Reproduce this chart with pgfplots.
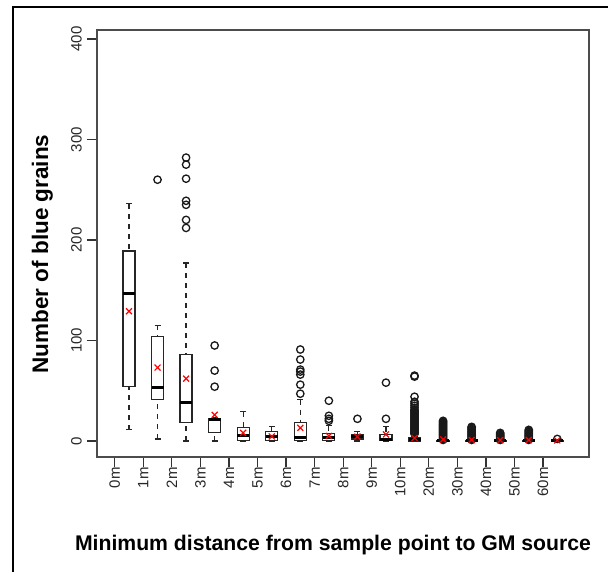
\documentclass[border=0pt]{standalone}
\usepackage{fontspec}
\setmainfont{Liberation Sans}
\usepackage{pgfplots}
\pgfplotsset{compat=1.18}
\usepgfplotslibrary{statistics}

% whiskers dashed, caps solid (R style)
\pgfplotsset{
  boxplot/draw/lower whisker/.code={%
    \draw[black!85, line width=1.2pt, dash pattern=on 5pt off 5pt]
      (boxplot box cs:\pgfplotsboxplotvalue{lower whisker},0.5) --
      (boxplot box cs:\pgfplotsboxplotvalue{lower quartile},0.5);
    \draw[black!85, line width=1.2pt]
      (boxplot whisker cs:\pgfplotsboxplotvalue{lower whisker},0) --
      (boxplot whisker cs:\pgfplotsboxplotvalue{lower whisker},1);
  },
  boxplot/draw/upper whisker/.code={%
    \draw[black!85, line width=1.2pt, dash pattern=on 5pt off 5pt]
      (boxplot box cs:\pgfplotsboxplotvalue{upper whisker},0.5) --
      (boxplot box cs:\pgfplotsboxplotvalue{upper quartile},0.5);
    \draw[black!85, line width=1.2pt]
      (boxplot whisker cs:\pgfplotsboxplotvalue{upper whisker},0) --
      (boxplot whisker cs:\pgfplotsboxplotvalue{upper whisker},1);
  },
  boxplot/draw direction=y,
  boxplot/every box/.style={draw=black!85, line width=1.2pt},
  boxplot/every median/.style={draw=black, line width=3pt},
  boxplot/box extend=0.42,
  boxplot/whisker extend=0.21,
}

\begin{document}
\begin{tikzpicture}
\path[use as bounding box] (0,0) rectangle (608pt,571pt);
\draw[line width=2.5pt] (13pt,-5pt) -- (13pt,564pt) -- (615pt,564pt);

\begin{axis}[
  at={(97pt,114pt)}, anchor=south west,
  width=492pt, height=427pt, scale only axis,
  xmin=-0.12, xmax=17.11, ymin=-16, ymax=409,
  xtick={0.5,1.5,2.5,3.5,4.5,5.5,6.5,7.5,8.5,9.5,10.5,11.5,12.5,13.5,14.5,15.5},
  xticklabels={0m,1m,2m,3m,4m,5m,6m,7m,8m,9m,10m,20m,30m,40m,50m,60m},
  ytick={0,100,200,300,400},
  xtick pos=bottom, ytick pos=left,
  tick align=outside, major tick length=10pt,
  tick style={line width=1.2pt, black!80},
  axis line style={line width=1.5pt, black!70},
  /pgf/number format/assume math mode=true,
  tick label style={font=\fontsize{15}{15}\selectfont, text=black!85, inner sep=0pt},
  xticklabel style={rotate=90, anchor=east},
  yticklabel style={rotate=90, anchor=south},
  yticklabel shift=5pt,
  clip=false,
]
% 0m
\addplot[boxplot prepared={draw position=1, lower whisker=11, lower quartile=54,
  median=147, upper quartile=189, upper whisker=236}] coordinates {};
% 1m
\addplot[boxplot prepared={draw position=2, lower whisker=2, lower quartile=41,
  median=53, upper quartile=104, upper whisker=115}] coordinates {};
% 2m
\addplot[boxplot prepared={draw position=3, lower whisker=0, lower quartile=18,
  median=38, upper quartile=86, upper whisker=177}] coordinates {};
% 3m
\addplot[boxplot prepared={draw position=4, lower whisker=0, lower quartile=8,
  median=21, upper quartile=22, upper whisker=23}] coordinates {};
% 4m
\addplot[boxplot prepared={draw position=5, lower whisker=0, lower quartile=0.5,
  median=5, upper quartile=13, upper whisker=29}] coordinates {};
% 5m
\addplot[boxplot prepared={draw position=6, lower whisker=0, lower quartile=0.5,
  median=4, upper quartile=9, upper whisker=14}] coordinates {};
% 6m
\addplot[boxplot prepared={draw position=7, lower whisker=0, lower quartile=0.5,
  median=3, upper quartile=18, upper whisker=41}] coordinates {};
% 7m
\addplot[boxplot prepared={draw position=8, lower whisker=0, lower quartile=0.5,
  median=3, upper quartile=7, upper whisker=15}] coordinates {};
% 8m
\addplot[boxplot prepared={draw position=9, lower whisker=0, lower quartile=2,
  median=4, upper quartile=6, upper whisker=9}] coordinates {};
% 9m
\addplot[boxplot prepared={draw position=10, lower whisker=0, lower quartile=0.5,
  median=1.5, upper quartile=6, upper whisker=14}] coordinates {};
% 10m
\addplot[boxplot prepared={draw position=11, lower whisker=0, lower quartile=0,
  median=1, upper quartile=3, upper whisker=6}] coordinates {};
% 20m .. 60m
\addplot[boxplot prepared={draw position=12, lower whisker=0, lower quartile=0,
  median=0, upper quartile=0.5, upper whisker=0.5}] coordinates {};
\addplot[boxplot prepared={draw position=13, lower whisker=0, lower quartile=0,
  median=0, upper quartile=0.5, upper whisker=0.5}] coordinates {};
\addplot[boxplot prepared={draw position=14, lower whisker=0, lower quartile=0,
  median=0, upper quartile=0.5, upper whisker=0.5}] coordinates {};
\addplot[boxplot prepared={draw position=15, lower whisker=0, lower quartile=0,
  median=0, upper quartile=0.5, upper whisker=0.5}] coordinates {};
\addplot[boxplot prepared={draw position=16, lower whisker=0, lower quartile=0,
  median=0, upper quartile=0.5, upper whisker=0.5}] coordinates {};

% outliers
\addplot[only marks, mark=o, mark size=3.7pt, black!90,
  mark options={line width=1.3pt}] table {
x y
2 260
3 282
3 275
3 261
3 239
3 235
3 220
3 212
4 95
4 70
4 54
7 91
7 81
7 71
7 69
7 66
7 56
7 47
8 40
8 25
8 22
8 20
9 22
10 58
10 22
11 65
11 64
11 44
11 39
11 37
11 35
11 33
11 31
11 30
11 29
11 28
11 27
11 26
11 25
11 24
11 23
11 22
11 21
11 20
11 19
11 18
11 17
11 16
11 15
11 14
11 13
11 12
11 11
11 10
11 9
11 8
11 7
12 20
12 19
12 18
12 17
12 16
12 15
12 14
12 13
12 12
12 11
12 10
12 9
12 8
12 7
12 6
12 5
12 4
12 3
12 2
12 1
13 14
13 13
13 12
13 11
13 10
13 9
13 8
13 7
13 6
13 5
13 4
13 3
13 2
13 1
14 8
14 7
14 6
14 5
14 4
14 3
14 2
14 1
15 11
15 10
15 9
15 8
15 7
15 6
15 5
15 4
15 3
15 2
15 1
16 2
};

% means
\addplot[only marks, mark=x, mark size=4.2pt, red,
  mark options={line width=1.2pt}] coordinates {
(1,129) (2,73) (3,62) (4,26) (5,8) (6,4.5) (7,13) (8,5)
(9,4.3) (10,6.5) (11,3) (12,1.5) (13,1) (14,0.8) (15,1) (16,0.5)
};
\end{axis}

\node[rotate=90, anchor=base, font=\fontsize{22.5}{22.5}\bfseries] at (48pt,317pt)
  {Number of blue grains};
\node[anchor=base, font=\fontsize{21.2}{21.2}\bfseries] at (333pt,21pt)
  {Minimum distance from sample point to GM source};
\end{tikzpicture}
\end{document}
